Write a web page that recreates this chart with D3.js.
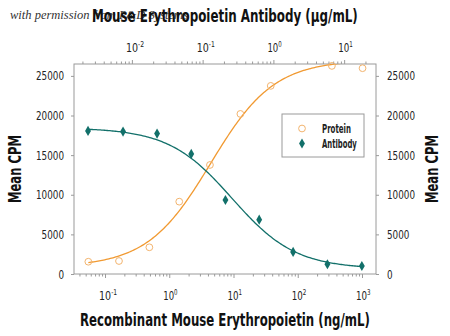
<!DOCTYPE html>
<html>
<head>
<meta charset="utf-8">
<script src="https://cdn.jsdelivr.net/npm/d3@7"></script>
<style>
  html, body { margin: 0; padding: 0; background: #fff; }
  svg { display: block; }
  .cond { font-family: "Liberation Sans Narrow", "DejaVu Sans Condensed", "Arial Narrow", sans-serif; }
</style>
</head>
<body>
<svg id="chart" width="450" height="336"></svg>
<script>
// Recombinant protein concentrations (ng/mL, bottom axis) and responses
const proteinConc = [0.055, 0.165, 0.49, 1.43, 4.3, 12.8, 38, 340, 1020];
const proteinCPM  = [1550, 1640, 3370, 9130, 13760, 20200, 23740, 26260, 25970];

// Neutralizing antibody concentrations (µg/mL, top axis) and responses
const antibodyConc = [0.0024, 0.0075, 0.0227, 0.069, 0.21, 0.63, 1.9, 5.8, 17.8];
const antibodyCPM  = [18060, 17970, 17720, 15150, 9340, 6860, 2780, 1230, 1010];

// Four-parameter logistic fits: [bottom, top, EC50, Hill slope]
const proteinFit  = [900, 27000, 4.4, 0.88];
const antibodyFit = [650, 18450, 0.26, -0.97];

const yTicks = [0, 5000, 10000, 15000, 20000, 25000];
const bottomDecades = [0.1, 1, 10, 100, 1000];
const topDecades = [0.01, 0.1, 1, 10];

const legendLabels = ["Protein", "Antibody"];
const titleTop = "Mouse Erythropoietin Antibody (\u00b5g/mL)";
const titleBottom = "Recombinant Mouse Erythropoietin (ng/mL)";
const titleY = "Mean CPM";
const credit = "with permission from R&D Systems";

const ORANGE = "#f19a32";
const ORANGE_LIGHT = "#f3b46e";
const TEAL = "#12706a";
const FRAME = "#9a9a9a";

const svg = d3.select("#chart");
const L = 74, R = 376, T = 64, B = 274;

const xBottom = d3.scaleLog().domain([0.0329, 1652]).range([L, R]);
const xTop = d3.scaleLog().domain([0.00152, 28.2]).range([L, R]);
const y = d3.scaleLinear().domain([0, 26500]).range([B, T]);

function logistic(p, x) {
  const [b, t, c, h] = p;
  return b + (t - b) / (1 + Math.pow(c / x, h));
}

// place a text at (x, y) and narrow it horizontally so it spans `width` px
function fitText(parent, x, yPos, width, opts) {
  const g = parent.append("g");
  const t = g.append("text").attr("class", "cond")
    .attr("font-size", opts.size)
    .attr("font-weight", opts.weight || "normal")
    .attr("fill", opts.fill || "#222");
  opts.build(t);
  const w = t.node().getComputedTextLength ? t.node().getBBox().width : width;
  const k = width / w;
  const anchor = opts.anchor || "start";
  const dx = anchor === "middle" ? -width / 2 : anchor === "end" ? -width : 0;
  g.attr("transform", `translate(${x},${yPos})${opts.rotate ? " rotate(-90)" : ""} translate(${dx},0) scale(${k},1)`);
  return g;
}

svg.append("defs").append("clipPath").attr("id", "plot")
  .append("rect").attr("x", L).attr("y", T).attr("width", R - L).attr("height", B - T);

// credit line sits behind the top title
svg.append("text")
  .attr("x", 10).attr("y", 19)
  .attr("font-family", "'Liberation Serif', 'DejaVu Serif', serif")
  .attr("font-style", "italic")
  .attr("font-size", 12.5)
  .attr("fill", "#333")
  .text(credit);

const bold = (text) => ({ size: 17, weight: "bold", fill: "#111", anchor: "middle", build: t => t.text(text) });
fitText(svg, 225, 22, 266, bold(titleTop));
fitText(svg, 225, 326, 290, bold(titleBottom));
fitText(svg, 21, 169, 68, Object.assign(bold(titleY), { rotate: true }));
fitText(svg, 438, 169, 68, Object.assign(bold(titleY), { rotate: true }));

// plot frame
svg.append("rect")
  .attr("x", L).attr("y", T).attr("width", R - L).attr("height", B - T)
  .attr("fill", "none").attr("stroke", FRAME).attr("stroke-width", 1);

function styleAxis(g) {
  g.select(".domain").remove();
  g.selectAll(".tick line").attr("stroke", FRAME);
}

// left and right value axes: ticks from d3, labels narrowed
function valueAxis(axisFn, xPos, side) {
  const g = svg.append("g").attr("transform", `translate(${xPos},0)`)
    .call(axisFn(y).tickValues(yTicks).tickSize(3).tickFormat(() => ""));
  styleAxis(g);
  g.selectAll(".tick text").remove();
  const lab = svg.append("g");
  yTicks.forEach(v => {
    const s = d3.format("d")(v);
    fitText(lab, side === "left" ? xPos - 10 : xPos + 11, y(v) + 4.5, s.length * 5.6,
      { size: 12.5, anchor: side === "left" ? "end" : "start", build: t => t.text(s) });
  });
}
valueAxis(d3.axisLeft, L, "left");
valueAxis(d3.axisRight, R, "right");

// log axes with minor ticks and superscript decade labels
function logAxis(scale, orient, pos, decades) {
  const all = scale.ticks();
  const isMajor = d => decades.some(v => Math.abs(v / d - 1) < 1e-6);
  const axisFn = orient === "bottom" ? d3.axisBottom : d3.axisTop;
  const g = svg.append("g").attr("transform", `translate(0,${pos})`)
    .call(axisFn(scale).tickValues(all).tickSize(3).tickFormat(() => ""));
  styleAxis(g);
  g.selectAll(".tick text").remove();
  g.selectAll(".tick line").attr("y2", d => (orient === "bottom" ? 1 : -1) * (isMajor(d) ? 4 : 2.5));
  const lab = svg.append("g");
  decades.forEach(v => {
    const e = String(Math.round(Math.log10(v)));
    const w = 11 + e.length * 3.6;
    fitText(lab, scale(v) + w / 2 - 6, orient === "bottom" ? pos + 26 : pos - 12, w, {
      size: 12.5, anchor: "middle",
      build: t => {
        t.append("tspan").text("10");
        t.append("tspan").attr("dy", -5).attr("font-size", 8).text(e);
      }
    });
  });
}
logAxis(xBottom, "bottom", B, bottomDecades);
logAxis(xTop, "top", T, topDecades);

// fitted curves
function curvePoints(xs, fit) {
  const lo = Math.log10(d3.min(xs)), hi = Math.log10(d3.max(xs));
  return d3.range(0, 201).map(i => {
    const x = Math.pow(10, lo + (hi - lo) * i / 200);
    return [x, logistic(fit, x)];
  });
}
const plot = svg.append("g").attr("clip-path", "url(#plot)");
plot.append("path")
  .datum(curvePoints(proteinConc, proteinFit))
  .attr("d", d3.line().x(d => xBottom(d[0])).y(d => y(d[1])))
  .attr("fill", "none").attr("stroke", ORANGE).attr("stroke-width", 1.3);
plot.append("path")
  .datum(curvePoints(antibodyConc, antibodyFit))
  .attr("d", d3.line().x(d => xTop(d[0])).y(d => y(d[1])))
  .attr("fill", "none").attr("stroke", TEAL).attr("stroke-width", 1.3);

// data points
const circle = d3.symbol().type(d3.symbolCircle).size(36);
const diamond = d3.symbol().type(d3.symbolDiamond).size(30);

svg.append("g").selectAll("path").data(proteinConc).join("path")
  .attr("transform", (d, i) => `translate(${xBottom(d)},${y(proteinCPM[i])})`)
  .attr("d", circle)
  .attr("fill", "none").attr("stroke", ORANGE_LIGHT).attr("stroke-width", 1);

svg.append("g").selectAll("path").data(antibodyConc).join("path")
  .attr("transform", (d, i) => `translate(${xTop(d)},${y(antibodyCPM[i])})`)
  .attr("d", diamond)
  .attr("fill", TEAL);

// legend
const lg = svg.append("g");
lg.append("rect").attr("x", 282).attr("y", 114).attr("width", 82).attr("height", 43)
  .attr("fill", "#fff").attr("stroke", FRAME).attr("stroke-width", 1);
lg.append("path").attr("transform", "translate(302,128.5)").attr("d", circle)
  .attr("fill", "none").attr("stroke", ORANGE_LIGHT).attr("stroke-width", 1);
lg.append("path").attr("transform", "translate(302,143.5)").attr("d", diamond)
  .attr("fill", TEAL);
legendLabels.forEach((t, i) => {
  fitText(lg, 322, 132.5 + i * 15, i === 0 ? 29 : 35,
    { size: 11.5, weight: "bold", build: s => s.text(t) });
});
</script>
</body>
</html>
